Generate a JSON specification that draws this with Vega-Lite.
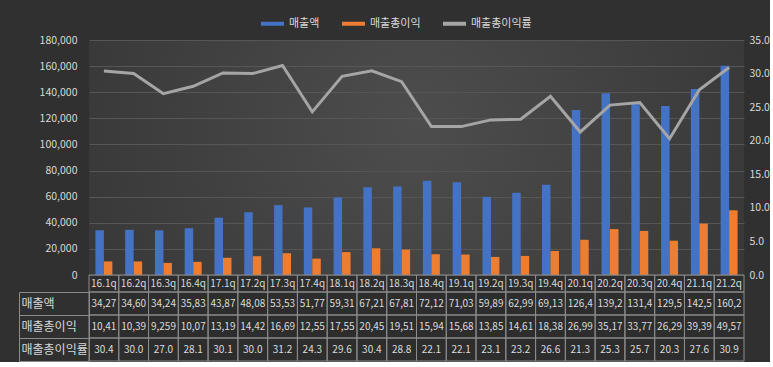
{
  "$schema": "https://vega.github.io/schema/vega-lite/v6.json",
  "background": "#303030",
  "padding": {"left": 18, "top": 10, "right": 0, "bottom": 0},
  "datasets": {
    "d": [
      {"q":"16.1q","s":"매출액","v":34270,"t":"34,27"},
      {"q":"16.2q","s":"매출액","v":34600,"t":"34,60"},
      {"q":"16.3q","s":"매출액","v":34240,"t":"34,24"},
      {"q":"16.4q","s":"매출액","v":35830,"t":"35,83"},
      {"q":"17.1q","s":"매출액","v":43870,"t":"43,87"},
      {"q":"17.2q","s":"매출액","v":48080,"t":"48,08"},
      {"q":"17.3q","s":"매출액","v":53530,"t":"53,53"},
      {"q":"17.4q","s":"매출액","v":51770,"t":"51,77"},
      {"q":"18.1q","s":"매출액","v":59310,"t":"59,31"},
      {"q":"18.2q","s":"매출액","v":67210,"t":"67,21"},
      {"q":"18.3q","s":"매출액","v":67810,"t":"67,81"},
      {"q":"18.4q","s":"매출액","v":72120,"t":"72,12"},
      {"q":"19.1q","s":"매출액","v":71030,"t":"71,03"},
      {"q":"19.2q","s":"매출액","v":59890,"t":"59,89"},
      {"q":"19.3q","s":"매출액","v":62990,"t":"62,99"},
      {"q":"19.4q","s":"매출액","v":69130,"t":"69,13"},
      {"q":"20.1q","s":"매출액","v":126400,"t":"126,4"},
      {"q":"20.2q","s":"매출액","v":139200,"t":"139,2"},
      {"q":"20.3q","s":"매출액","v":131400,"t":"131,4"},
      {"q":"20.4q","s":"매출액","v":129500,"t":"129,5"},
      {"q":"21.1q","s":"매출액","v":142500,"t":"142,5"},
      {"q":"21.2q","s":"매출액","v":160200,"t":"160,2"},
      {"q":"16.1q","s":"매출총이익","v":10410,"t":"10,41"},
      {"q":"16.2q","s":"매출총이익","v":10390,"t":"10,39"},
      {"q":"16.3q","s":"매출총이익","v":9259,"t":"9,259"},
      {"q":"16.4q","s":"매출총이익","v":10070,"t":"10,07"},
      {"q":"17.1q","s":"매출총이익","v":13190,"t":"13,19"},
      {"q":"17.2q","s":"매출총이익","v":14420,"t":"14,42"},
      {"q":"17.3q","s":"매출총이익","v":16690,"t":"16,69"},
      {"q":"17.4q","s":"매출총이익","v":12550,"t":"12,55"},
      {"q":"18.1q","s":"매출총이익","v":17550,"t":"17,55"},
      {"q":"18.2q","s":"매출총이익","v":20450,"t":"20,45"},
      {"q":"18.3q","s":"매출총이익","v":19510,"t":"19,51"},
      {"q":"18.4q","s":"매출총이익","v":15940,"t":"15,94"},
      {"q":"19.1q","s":"매출총이익","v":15680,"t":"15,68"},
      {"q":"19.2q","s":"매출총이익","v":13850,"t":"13,85"},
      {"q":"19.3q","s":"매출총이익","v":14610,"t":"14,61"},
      {"q":"19.4q","s":"매출총이익","v":18380,"t":"18,38"},
      {"q":"20.1q","s":"매출총이익","v":26990,"t":"26,99"},
      {"q":"20.2q","s":"매출총이익","v":35170,"t":"35,17"},
      {"q":"20.3q","s":"매출총이익","v":33770,"t":"33,77"},
      {"q":"20.4q","s":"매출총이익","v":26290,"t":"26,29"},
      {"q":"21.1q","s":"매출총이익","v":39390,"t":"39,39"},
      {"q":"21.2q","s":"매출총이익","v":49570,"t":"49,57"},
      {"q":"16.1q","s":"매출총이익률","v":30.4,"t":"30.4"},
      {"q":"16.2q","s":"매출총이익률","v":30.0,"t":"30.0"},
      {"q":"16.3q","s":"매출총이익률","v":27.0,"t":"27.0"},
      {"q":"16.4q","s":"매출총이익률","v":28.1,"t":"28.1"},
      {"q":"17.1q","s":"매출총이익률","v":30.1,"t":"30.1"},
      {"q":"17.2q","s":"매출총이익률","v":30.0,"t":"30.0"},
      {"q":"17.3q","s":"매출총이익률","v":31.2,"t":"31.2"},
      {"q":"17.4q","s":"매출총이익률","v":24.3,"t":"24.3"},
      {"q":"18.1q","s":"매출총이익률","v":29.6,"t":"29.6"},
      {"q":"18.2q","s":"매출총이익률","v":30.4,"t":"30.4"},
      {"q":"18.3q","s":"매출총이익률","v":28.8,"t":"28.8"},
      {"q":"18.4q","s":"매출총이익률","v":22.1,"t":"22.1"},
      {"q":"19.1q","s":"매출총이익률","v":22.1,"t":"22.1"},
      {"q":"19.2q","s":"매출총이익률","v":23.1,"t":"23.1"},
      {"q":"19.3q","s":"매출총이익률","v":23.2,"t":"23.2"},
      {"q":"19.4q","s":"매출총이익률","v":26.6,"t":"26.6"},
      {"q":"20.1q","s":"매출총이익률","v":21.3,"t":"21.3"},
      {"q":"20.2q","s":"매출총이익률","v":25.3,"t":"25.3"},
      {"q":"20.3q","s":"매출총이익률","v":25.7,"t":"25.7"},
      {"q":"20.4q","s":"매출총이익률","v":20.3,"t":"20.3"},
      {"q":"21.1q","s":"매출총이익률","v":27.6,"t":"27.6"},
      {"q":"21.2q","s":"매출총이익률","v":30.9,"t":"30.9"}
    ]
  },
  "data": {"name": "d"},
  "spacing": 0,
  "bounds": "flush",
  "resolve": {"scale": {"x": "independent", "y": "independent"}},
  "vconcat": [
    {
      "width": 655,
      "height": 235,
      "view": {
        "stroke": null,
        "fill": {
          "gradient": "radial",
          "x1": 0.5, "y1": 0.45, "r1": 0,
          "x2": 0.5, "y2": 0.45, "r2": 0.75,
          "stops": [
            {"offset": 0, "color": "#4d4d4d"},
            {"offset": 1, "color": "#303030"}
          ]
        }
      },
      "layer": [
        {
          "transform": [{"filter": "datum.s !== '매출총이익률'"}],
          "mark": {"type": "bar"},
          "encoding": {
            "x": {
              "field": "q", "type": "nominal", "sort": null,
              "scale": {"paddingInner": 0.43, "paddingOuter": 0.215},
              "axis": null
            },
            "xOffset": {"field": "s", "type": "nominal", "sort": ["매출액", "매출총이익"]},
            "y": {
              "field": "v", "type": "quantitative",
              "scale": {"domain": [0, 180000]},
              "axis": {
                "title": null,
                "values": [0, 20000, 40000, 60000, 80000, 100000, 120000, 140000, 160000, 180000],
                "format": ",d", "grid": true, "gridColor": "#565656",
                "domain": false, "ticks": false, "labelPadding": 12
              }
            },
            "color": {
              "field": "s", "type": "nominal",
              "scale": {
                "domain": ["매출액", "매출총이익", "매출총이익률"],
                "range": ["#4472c4", "#ed7d31", "#a5a5a5"]
              },
              "legend": {
                "orient": "none", "legendX": 170, "legendY": -30,
                "direction": "horizontal", "title": null,
                "symbolType": "stroke", "symbolSize": 529,
                "symbolStrokeWidth": 4, "labelColor": "#d9d9d9",
                "labelFontSize": 11, "columnPadding": 14, "labelOffset": 3
              }
            }
          }
        },
        {
          "transform": [{"filter": "datum.s === '매출총이익률'"}],
          "mark": {"type": "line", "strokeWidth": 3},
          "encoding": {
            "x": {"field": "q", "type": "nominal", "sort": null},
            "y": {
              "field": "v", "type": "quantitative",
              "scale": {"domain": [0, 35]},
              "axis": {
                "orient": "right", "title": null,
                "values": [0, 5, 10, 15, 20, 25, 30, 35],
                "format": ".1f", "grid": false, "domain": false,
                "ticks": false, "labelPadding": 5
              }
            },
            "color": {"field": "s", "type": "nominal"}
          }
        }
      ],
      "resolve": {"scale": {"y": "independent"}}
    },
    {
      "width": 655,
      "height": 17,
      "view": {"stroke": null},
      "transform": [{"filter": "datum.s === '매출액'"}],
      "layer": [
        {
          "mark": {"type": "rect", "fill": "#000000", "fillOpacity": 0.06, "stroke": "#8c8c8c", "strokeWidth": 1},
          "encoding": {
            "x": {
              "field": "q", "type": "nominal", "sort": null,
              "scale": {"paddingInner": 0, "paddingOuter": 0},
              "axis": null
            }
          }
        },
        {
          "mark": {"type": "text", "color": "#d9d9d9", "fontSize": 10},
          "encoding": {
            "x": {"field": "q", "type": "nominal", "sort": null},
            "text": {"field": "q"}
          }
        }
      ]
    },
    {
      "width": 655,
      "height": 69,
      "view": {"stroke": null},
      "layer": [
        {
          "mark": {"type": "rect", "fill": "#000000", "fillOpacity": 0.06, "stroke": "#8c8c8c", "strokeWidth": 1},
          "encoding": {
            "x": {
              "field": "q", "type": "nominal", "sort": null,
              "scale": {"paddingInner": 0, "paddingOuter": 0},
              "axis": null
            },
            "y": {
              "field": "s", "type": "nominal",
              "sort": ["매출액", "매출총이익", "매출총이익률"],
              "scale": {"paddingInner": 0, "paddingOuter": 0},
              "axis": {
                "orient": "left", "title": null, "tickBand": "extent",
                "tickSize": 70, "labelAlign": "left", "labelPadding": -2,
                "labelFontSize": 12, "labelColor": "#d9d9d9"
              }
            }
          }
        },
        {
          "mark": {"type": "text", "color": "#dcdcdc", "fontSize": 10},
          "encoding": {
            "x": {"field": "q", "type": "nominal", "sort": null},
            "y": {
              "field": "s", "type": "nominal",
              "sort": ["매출액", "매출총이익", "매출총이익률"],
              "axis": {
                "orient": "left", "title": null, "offset": 70,
                "labels": false, "ticks": false, "domain": true
              }
            },
            "text": {"field": "t"}
          }
        }
      ],
      "resolve": {"axis": {"y": "independent"}}
    }
  ],
  "config": {
    "font": "Noto Sans CJK KR",
    "view": {"stroke": null},
    "axis": {
      "labelColor": "#d9d9d9", "labelFontSize": 10.5,
      "domainColor": "#8c8c8c", "tickColor": "#8c8c8c"
    }
  }
}
